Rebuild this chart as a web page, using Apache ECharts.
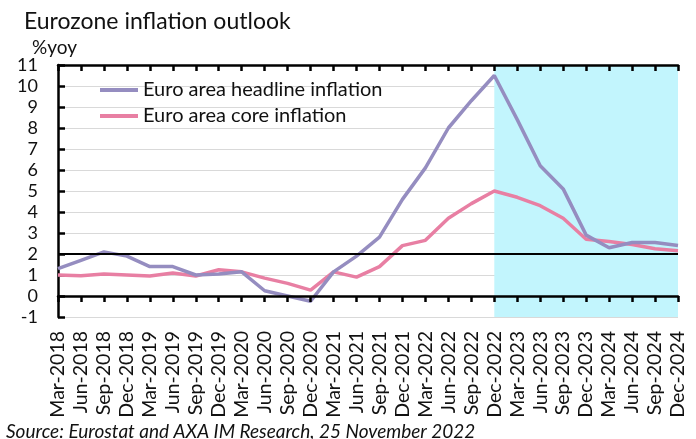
<!DOCTYPE html>
<html>
<head>
<meta charset="utf-8">
<script src="https://cdn.jsdelivr.net/npm/echarts@6/dist/echarts.min.js"></script>
<style>
  html, body { margin: 0; padding: 0; background: #fff; }
  #chart { width: 696px; height: 439px; }
</style>
</head>
<body>
<div id="chart"></div>
<script>
// quarterly, Mar-2018 .. Dec-2024 (forecast from Dec-2022)
const quarters = [
  "Mar-2018", "Jun-2018", "Sep-2018", "Dec-2018",
  "Mar-2019", "Jun-2019", "Sep-2019", "Dec-2019",
  "Mar-2020", "Jun-2020", "Sep-2020", "Dec-2020",
  "Mar-2021", "Jun-2021", "Sep-2021", "Dec-2021",
  "Mar-2022", "Jun-2022", "Sep-2022", "Dec-2022",
  "Mar-2023", "Jun-2023", "Sep-2023", "Dec-2023",
  "Mar-2024", "Jun-2024", "Sep-2024", "Dec-2024"
];
const headline = [
  1.3, 1.7, 2.1, 1.9, 1.4, 1.4, 1.0, 1.05,
  1.15, 0.25, 0.0, -0.25, 1.15, 1.9, 2.8, 4.6,
  6.1, 8.0, 9.3, 10.5, 8.4, 6.2, 5.1, 2.9,
  2.3, 2.55, 2.55, 2.4
];
const core = [
  1.0, 0.97, 1.05, 1.0, 0.95, 1.1, 0.95, 1.25,
  1.15, 0.85, 0.6, 0.28, 1.15, 0.9, 1.4, 2.4,
  2.65, 3.7, 4.4, 5.0, 4.7, 4.3, 3.7, 2.7,
  2.6, 2.45, 2.25, 2.15
];
const forecastFrom = "Dec-2022";
const forecastTo = "Dec-2024";
const targetLine = 2;

const FONT = "Lato";
const chart = echarts.init(document.getElementById("chart"));

const option = {
  animation: false,
  textStyle: { fontFamily: FONT, color: "#000" },
  title: [
    {
      text: "Eurozone inflation outlook",
      left: 19, top: 5,
      textStyle: { fontSize: 23, fontWeight: "normal", color: "#111", fontFamily: FONT }
    },
    {
      text: "%yoy",
      left: 27, top: 33,
      textStyle: { fontSize: 19, fontWeight: "normal", color: "#111", fontFamily: FONT }
    },
    {
      text: "Source: Eurostat and AXA IM Research, 25 November 2022",
      left: 1, top: 417,
      textStyle: { fontSize: 19, fontWeight: "normal", fontStyle: "italic", color: "#111", fontFamily: FONT }
    }
  ],
  legend: {
    orient: "vertical",
    left: 95, top: 74,
    icon: "rect",
    itemWidth: 38, itemHeight: 4,
    itemGap: 4,
    textStyle: { fontSize: 20, color: "#111", lineHeight: 22, fontFamily: FONT },
    data: ["Euro area headline inflation", "Euro area core inflation"]
  },
  grid: { left: 58, right: 18, top: 65, bottom: 122, containLabel: false },
  xAxis: [
    {
      type: "category",
      data: quarters,
      boundaryGap: false,
      axisLine: { onZero: true, lineStyle: { color: "#000", width: 2.5 } },
      axisTick: { show: true, inside: false, length: 6, interval: 0, lineStyle: { color: "#000", width: 2.5 } },
      axisLabel: { show: false },
      splitLine: { show: false },
      z: 5
    },
    {
      type: "category",
      data: quarters,
      boundaryGap: false,
      axisLine: { onZero: true, lineStyle: { color: "#000", width: 2.5 } },
      axisTick: { show: true, inside: true, length: 6, interval: 0, lineStyle: { color: "#000", width: 2.5 } },
      axisLabel: { show: false },
      splitLine: { show: false },
      z: 5
    },
    {
      type: "category",
      data: quarters,
      boundaryGap: false,
      position: "bottom",
      axisLine: { show: false, onZero: false },
      axisTick: { show: false },
      axisLabel: { interval: 0, rotate: 90, margin: 14, fontSize: 19.5, color: "#111", fontFamily: FONT },
      splitLine: { show: false }
    }
  ],
  yAxis: {
    type: "value",
    min: -1, max: 11, interval: 1,
    axisLine: { show: true, onZero: false, lineStyle: { color: "#000", width: 2.5 } },
    axisTick: { show: true, inside: true, length: 7, lineStyle: { color: "#000", width: 2.5 } },
    axisLabel: { fontSize: 18, color: "#111", margin: 20, fontFamily: FONT },
    splitLine: { show: true, lineStyle: { color: "#d9d9d9", width: 1 } }
  },
  series: [
    {
      name: "Euro area headline inflation",
      type: "line",
      xAxisIndex: 0,
      data: headline,
      symbol: "none",
      color: "#958DC0",
      lineStyle: { width: 3.5, color: "#958DC0" },
      z: 3,
      markArea: {
        silent: true,
        itemStyle: { color: "#C2F5FD" },
        data: [[{ xAxis: forecastFrom }, { xAxis: forecastTo }]]
      }
    },
    {
      name: "Euro area core inflation",
      type: "line",
      xAxisIndex: 0,
      data: core,
      symbol: "none",
      color: "#E87FA3",
      lineStyle: { width: 3.5, color: "#E87FA3" },
      z: 2,
      markLine: {
        silent: true,
        symbol: "none",
        label: { show: false },
        lineStyle: { color: "#000", width: 2, type: "solid" },
        data: [{ yAxis: targetLine }]
      }
    }
  ]
};

chart.setOption(option);
</script>
</body>
</html>
